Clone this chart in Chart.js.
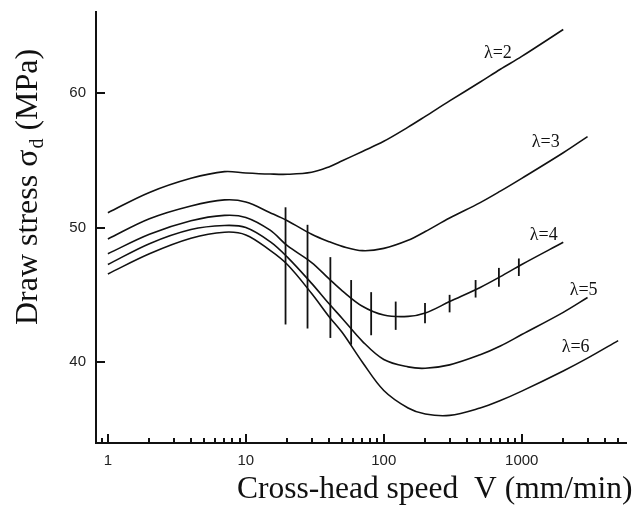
<!DOCTYPE html>
<html>
<head>
<meta charset="utf-8">
<script src="https://cdn.jsdelivr.net/npm/chart.js@4.4.0/dist/chart.umd.min.js"></script>
<style>
  body { margin: 0; background: #fff; }
  #wrap { width: 638px; height: 511px; }
</style>
</head>
<body>
<div id="wrap"><canvas id="myChart" width="638" height="511"></canvas></div>
<script>
// cross-head speed V (mm/min) where the curves were read
const speeds = [1, 2, 4, 7, 10, 15, 20, 30, 40, 50, 70, 100, 150, 200, 300, 500, 700, 1000, 2000, 3000, 5000];

// draw stress (MPa) for each draw ratio
const lambda2 = [51.1, 52.6, 53.65, 54.15, 54.05, 53.97, 53.95, 54.1, 54.5, 54.95, 55.65, 56.4, 57.45, 58.25, 59.4, 60.8, 61.75, 62.7, 64.7, null, null];
const lambda3 = [49.15, 50.65, 51.6, 52.05, 51.9, 51.1, 50.5, 49.5, 48.95, 48.6, 48.28, 48.45, 49.05, 49.7, 50.7, 51.85, 52.7, 53.65, 55.55, 56.75, null];
const lambda4 = [48.05, 49.5, 50.5, 50.9, 50.75, 49.8, 48.65, 47.4, 46.2, 45.3, 44.15, 43.5, 43.4, 43.65, 44.5, 45.55, 46.35, 47.25, 48.9, null, null];
const lambda5 = [47.25, 48.8, 49.85, 50.15, 50.0, 48.95, 47.8, 45.85, 44.35, 43.25, 41.55, 40.2, 39.65, 39.55, 39.8, 40.55, 41.2, 42.05, 43.7, 44.8, null];
const lambda6 = [46.55, 48.05, 49.2, 49.65, 49.45, 48.3, 47.25, 45.1, 43.4, 42.2, 40.0, 37.9, 36.6, 36.15, 36.05, 36.6, 37.15, 37.85, 39.35, 40.3, 41.6];
const series = [lambda2, lambda3, lambda4, lambda5, lambda6];

// error bars on the lambda=4 curve
const errSpeeds = [19.4, 28, 41, 58, 81, 122, 199, 300, 463, 683, 953];
const errLow = [42.8, 42.5, 41.8, 41.3, 42.0, 42.4, 42.9, 43.7, 44.8, 45.6, 46.4];
const errHigh = [51.5, 50.2, 47.8, 46.1, 45.2, 44.5, 44.4, 45.0, 46.1, 47.0, 47.7];

// curve labels and where they sit (data coordinates, left/baseline)
const labelText = ['λ=2', 'λ=3', 'λ=4', 'λ=5', 'λ=6'];
const labelSpeed = [532, 1183, 1145, 2228, 1950];
const labelStress = [62.6, 56.0, 49.05, 45.0, 40.75];

const yTicks = [40, 50, 60];
const xLabels = [1, 10, 100, 1000];

let datasets = [];
series.forEach(vals => {
    let pts = [];
    speeds.forEach((v, i) => {
        if (vals[i] !== null) pts.push({x: v, y: vals[i]});
    });
    datasets.push({
        data: pts,
        borderColor: '#111',
        borderWidth: 1.6,
        pointRadius: 0,
        tension: 0.35,
        fill: false
    });
});
errSpeeds.forEach((v, i) => {
    datasets.push({
        data: [{x: v, y: errLow[i]}, {x: v, y: errHigh[i]}],
        borderColor: '#111',
        borderWidth: 1.8,
        pointRadius: 0,
        fill: false
    });
});

// inward tick marks, majors longer than minors
const tickMarks = {
    id: 'tickMarks',
    afterDraw(chart) {
        const ctx = chart.ctx;
        const xs = chart.scales.x, ys = chart.scales.y;
        const area = chart.chartArea;
        ctx.save();
        ctx.strokeStyle = '#111';
        ctx.lineWidth = 2;
        for (let k = -1; k <= 4; k++) {
            for (let m = 1; m <= 9; m++) {
                const v = m * Math.pow(10, k);
                if (v < xs.min || v > xs.max) continue;
                const px = Math.round(xs.getPixelForValue(v));
                const len = m === 1 ? 9 : 5;
                ctx.beginPath();
                ctx.moveTo(px, area.bottom);
                ctx.lineTo(px, area.bottom - len);
                ctx.stroke();
            }
        }
        yTicks.forEach(t => {
            const py = Math.round(ys.getPixelForValue(t));
            ctx.beginPath();
            ctx.moveTo(area.left, py);
            ctx.lineTo(area.left + 9, py);
            ctx.stroke();
        });
        ctx.restore();
    }
};

// axis titles (with the subscript) and curve labels
const texts = {
    id: 'texts',
    afterDraw(chart) {
        const ctx = chart.ctx;
        const xs = chart.scales.x, ys = chart.scales.y;
        ctx.save();
        ctx.fillStyle = '#111';
        ctx.textBaseline = 'alphabetic';
        ctx.textAlign = 'left';

        ctx.font = '18px "Liberation Serif"';
        labelText.forEach((t, i) => {
            ctx.fillText(t, xs.getPixelForValue(labelSpeed[i]), ys.getPixelForValue(labelStress[i]));
        });

        ctx.font = '31.5px "Liberation Serif"';
        ctx.fillText('Cross-head speed  V (mm/min)', 237, 498);

        ctx.translate(37, 325);
        ctx.rotate(-Math.PI / 2);
        ctx.font = '32px "Liberation Serif"';
        let part = 'Draw stress σ';
        ctx.fillText(part, 0, 0);
        let w = ctx.measureText(part).width;
        ctx.font = '20px "Liberation Serif"';
        ctx.fillText('d', w + 1, 6);
        w += ctx.measureText('d').width + 1;
        ctx.font = '32px "Liberation Serif"';
        ctx.fillText(' (MPa)', w, 0);
        ctx.restore();
    }
};

const ctx = document.getElementById('myChart').getContext('2d');
const myChart = new Chart(ctx, {
    type: 'line',
    data: { datasets: datasets },
    options: {
        responsive: false,
        animation: false,
        layout: {
            padding: { left: 0, top: 12, right: 12, bottom: 0 }
        },
        plugins: {
            legend: { display: false },
            tooltip: { enabled: false }
        },
        scales: {
            x: {
                type: 'logarithmic',
                min: 0.82,
                max: 5700,
                grid: { display: false, drawTicks: false },
                border: { display: true, color: '#111', width: 2 },
                ticks: {
                    autoSkip: false,
                    maxRotation: 0,
                    padding: 9,
                    color: '#222',
                    font: { family: 'Liberation Sans', size: 15 },
                    callback: function(value) {
                        return xLabels.includes(value) ? String(value) : '';
                    }
                },
                afterFit: function(scale) {
                    scale.height = 68;
                    scale.paddingLeft = 0;
                    scale.paddingRight = 0;
                }
            },
            y: {
                min: 34,
                max: 66,
                grid: { display: false, drawTicks: false },
                border: { display: true, color: '#111', width: 2 },
                ticks: {
                    stepSize: 10,
                    includeBounds: false,
                    padding: 10,
                    color: '#222',
                    font: { family: 'Liberation Sans', size: 15 }
                },
                afterFit: function(scale) {
                    scale.width = 96;
                    scale.paddingTop = 0;
                    scale.paddingBottom = 0;
                }
            }
        }
    },
    plugins: [tickMarks, texts]
});
</script>
</body>
</html>
